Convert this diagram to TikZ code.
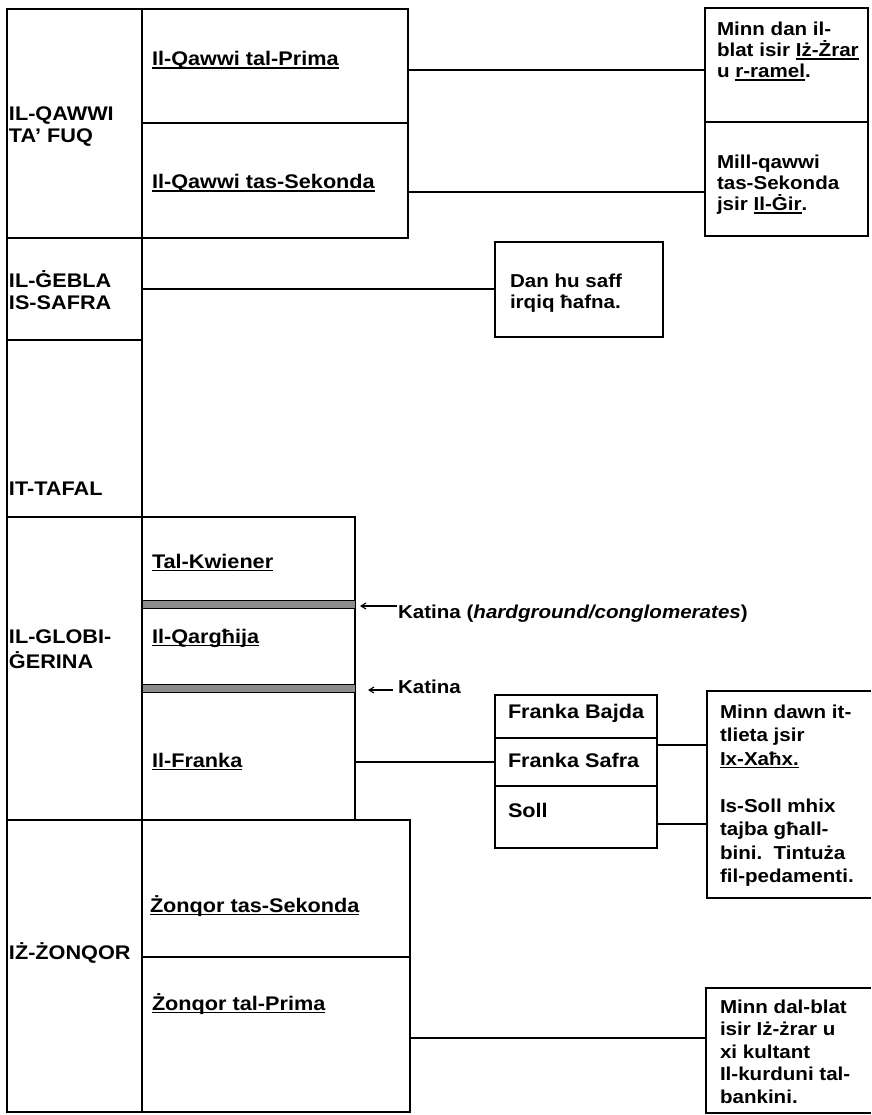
\documentclass[tikz,border=0pt]{standalone}
\usepackage{fontspec}
\setmainfont[FakeStretch=1.1]{Liberation Sans}
\usetikzlibrary{arrows.meta}
\newcommand\uln[1]{\mbox{\setbox0=\hbox{#1}\rlap{\rule[-2.6pt]{\wd0}{1.1pt}}\box0}}
\tikzset{
  ln/.style={line width=1.4pt},
  frame/.style={draw, line width=1.4pt, inner sep=0pt, outer sep=0pt, anchor=north west},
  blank/.style={inner sep=0pt, outer sep=0pt, anchor=north west},
  big/.style={inner sep=0pt, outer sep=0pt, anchor=base west, align=left, font=\fontsize{19.7}{22}\selectfont\bfseries},
  small/.style={inner sep=0pt, outer sep=0pt, anchor=base west, align=left, font=\fontsize{18.7}{21}\selectfont\bfseries},
  band/.style={draw, line width=1pt, fill=black!45, inner sep=0pt, outer sep=0pt, anchor=north west},
  katarrow/.style={line width=1.1pt, -{Straight Barb[length=5pt,width=6pt]}},
}
\begin{document}
\begin{tikzpicture}[x=1pt, y=-1pt]
\useasboundingbox (0,0) rectangle (871,1115);
% left column cells
\node[frame, minimum width=135, minimum height=229] (qf) at (7,9) {};
\node[frame, minimum width=135, minimum height=102] (gb) at (7,238) {};
\node[frame, minimum width=135, minimum height=177] (tf) at (7,340) {};
\node[frame, minimum width=135, minimum height=303] (gl) at (7,517) {};
\node[frame, minimum width=135, minimum height=292] (zq) at (7,820) {};
% middle column
\node[frame, minimum width=266, minimum height=114] (qp) at (142,9) {};
\node[frame, minimum width=266, minimum height=115] (qs) at (142,123) {};
\node[frame, minimum width=213, minimum height=303] (gk) at (142,517) {};
\node[band, minimum width=213, minimum height=8] (k1) at (142,600) {};
\node[band, minimum width=213, minimum height=8] (k2) at (142,684) {};
\node[frame, minimum width=268, minimum height=137] (zs) at (142,820) {};
\node[frame, minimum width=268, minimum height=155] (zp) at (142,957) {};
% right boxes
\node[frame, minimum width=163, minimum height=114] (r1) at (705,8) {};
\node[frame, minimum width=163, minimum height=114] (r2) at (705,122) {};
\node[frame, minimum width=168, minimum height=95] (dn) at (495,242) {};
\node[frame, minimum width=162, minimum height=43] (fb) at (495,695) {};
\node[frame, minimum width=162, minimum height=48] (fs) at (495,738) {};
\node[frame, minimum width=162, minimum height=62] (fl) at (495,786) {};
\node[blank, minimum width=164, minimum height=207] (r3) at (707,691) {};
\draw[ln] (r3.north east) -- (r3.north west) -- (r3.south west) -- (r3.south east);
\node[blank, minimum width=165, minimum height=125] (r4) at (706,988) {};
\draw[ln] (r4.north east) -- (r4.north west) -- (r4.south west) -- (r4.south east);
% texts (base = baseline of the last line)
\node[big] (tqf) at (9,143) {IL-QAWWI\\TA' FUQ};
\node[big] (tqp) at (152,66) {\uln{Il-Qawwi tal-Prima}};
\node[big] (tqs) at (152,189) {\uln{Il-Qawwi tas-Sekonda}};
\node[big] (tgb) at (9,309) {IL-ĠEBLA\\IS-SAFRA};
\node[big] (ttf) at (9,495) {IT-TAFAL};
\node[big, font=\fontsize{19.7}{25}\selectfont\bfseries] (tgl) at (9,668) {IL-GLOBI-\\ĠERINA};
\node[big] (tkw) at (152,568) {\uln{Tal-Kwiener}};
\node[big] (tqa) at (152,643) {\uln{Il-Qargħija}};
\node[big] (tfr) at (152,767) {\uln{Il-Franka}};
\node[big] (tzq) at (9,959) {IŻ-ŻONQOR};
\node[big] (tzs) at (150,912) {\uln{Żonqor tas-Sekonda}};
\node[big] (tzp) at (152,1010) {\uln{Żonqor tal-Prima}};
\node[small] (kat1) at (398,618) {Katina (\textit{hardground/conglomerates})};
\node[small] (kat2) at (398,693) {Katina};
\node[big] (tfb) at (508,718) {Franka Bajda};
\node[big] (tfs) at (508,767) {Franka Safra};
\node[big] (tfl) at (508,817) {Soll};
\node[small] (t1) at (717,78) {Minn dan il-\\blat isir \uln{Iż-Żrar}\\u \uln{r-ramel}.};
\node[small] (t2) at (717,211) {Mill-qawwi\\tas-Sekonda\\jsir \uln{Il-Ġir}.};
\node[small] (t3) at (510,308) {Dan hu saff\\irqiq ħafna.};
\node[small, font=\fontsize{18.7}{23.5}\selectfont\bfseries] (t4) at (720,882.5) {Minn dawn it-\\tlieta jsir\\\uln{Ix-Xaħx.}\\[23.5pt]Is-Soll mhix\\tajba għall-\\bini.\ \ Tintuża\\fil-pedamenti.};
\node[small, font=\fontsize{18.7}{22.5}\selectfont\bfseries] (t5) at (720,1103) {Minn dal-blat\\isir Iż-żrar u\\xi kultant\\Il-kurduni tal-\\bankini.};
% connectors
\coordinate (yP) at (0,70);
\draw[ln] (qp.east |- yP) -- (r1.west |- yP);
\coordinate (yS) at (0,192);
\draw[ln] (qs.east |- yS) -- (r2.west |- yS);
\draw[ln] (gb.east) -- (dn.west |- gb.east);
\draw[ln] (gk.east |- fs.west) -- (fs.west);
\coordinate (yF) at (0,745);
\draw[ln] (fs.east |- yF) -- (r3.west |- yF);
\coordinate (yL) at (0,824);
\draw[ln] (fl.east |- yL) -- (r3.west |- yL);
\coordinate (yZ) at (0,1038);
\draw[ln] (zp.east |- yZ) -- (r4.west |- yZ);
% Katina arrows
\coordinate (a1) at (397,606);
\draw[katarrow, shorten >=5pt] (a1) -- (a1 -| gk.east);
\coordinate (a2) at (393,690);
\draw[katarrow, shorten >=13pt] (a2) -- (a2 -| gk.east);
\end{tikzpicture}
\end{document}
